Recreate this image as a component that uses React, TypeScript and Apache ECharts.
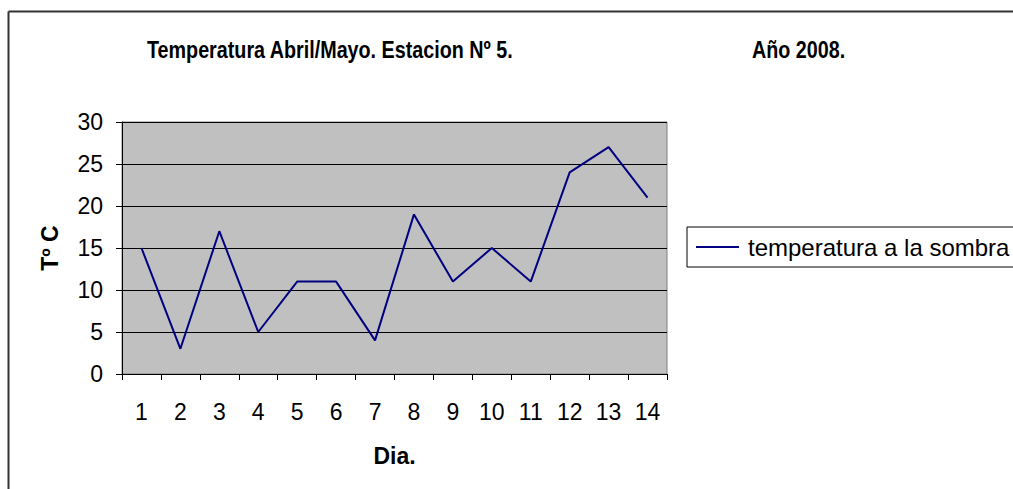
import React, { useEffect, useRef } from "react";
import * as echarts from "echarts";

const days = ["1", "2", "3", "4", "5", "6", "7", "8", "9", "10", "11", "12", "13", "14"];
const temperatures = [15, 3, 17, 5, 11, 11, 4, 19, 11, 15, 11, 24, 27, 21];
const seriesName = "temperatura a la sombra";
const titleMain = "Temperatura Abril/Mayo. Estacion Nº 5.";
const titleYear = "Año 2008.";
const yAxisName = "Tº C";
const xAxisName = "Dia.";

export default function App() {
  const ref = useRef<HTMLDivElement>(null);
  useEffect(() => {
    if (!ref.current) return;
    const chart = echarts.init(ref.current, null, { renderer: "svg" });
    const font = "Liberation Sans, Arial, sans-serif";
    chart.setOption({
      animation: false,
      backgroundColor: "#ffffff",
      textStyle: { fontFamily: font },
      grid: {
        left: 122,
        top: 122,
        right: 346,
        bottom: 115,
        show: true,
        backgroundColor: "#C0C0C0",
        borderColor: "#808080",
        borderWidth: 1,
      },
      graphic: [
        { type: "line", shape: { x1: 8.5, y1: 11.5, x2: 8.5, y2: 489 }, style: { stroke: "#333", lineWidth: 2 } },
        { type: "line", shape: { x1: 8.5, y1: 11.5, x2: 1013, y2: 11.5 }, style: { stroke: "#333", lineWidth: 2 } },
        {
          type: "text",
          x: 147,
          y: 38,
          scaleX: 0.84,
          style: { text: titleMain, font: `bold 23.5px ${font}`, fill: "#000", textVerticalAlign: "top", verticalAlign: "top" },
        },
        {
          type: "text",
          x: 752,
          y: 38,
          scaleX: 0.84,
          style: { text: titleYear, font: `bold 23.5px ${font}`, fill: "#000", textVerticalAlign: "top", verticalAlign: "top" },
        },
      ],
      legend: {
        left: 687,
        top: 227,
        orient: "vertical",
        data: [{ name: seriesName, icon: "rect" }],
        itemWidth: 43,
        itemHeight: 2,
        itemGap: 0,
        padding: [8, 30, 8, 9],
        borderColor: "#000",
        borderWidth: 1,
        backgroundColor: "#fff",
        borderRadius: 0,
        textStyle: { fontSize: 24, lineHeight: 24, color: "#000", fontFamily: font, padding: [0, 0, 0, 4] },
      },
      xAxis: {
        type: "category",
        data: days,
        boundaryGap: true,
        name: xAxisName,
        nameLocation: "middle",
        nameGap: 70,
        nameTextStyle: { fontSize: 23, fontWeight: "bold", color: "#000" },
        axisLine: { lineStyle: { color: "#000", width: 1 } },
        axisTick: { show: true, length: 6, lineStyle: { color: "#000" } },
        axisLabel: { fontSize: 23, color: "#000", margin: 26 },
        splitLine: { show: false },
      },
      yAxis: {
        type: "value",
        min: 0,
        max: 30,
        interval: 5,
        name: yAxisName,
        nameLocation: "middle",
        nameGap: 61,
        nameRotate: 90,
        nameTextStyle: { fontSize: 23, fontWeight: "bold", color: "#000" },
        axisLine: { show: true, lineStyle: { color: "#000", width: 1 } },
        axisTick: { show: true, length: 6, lineStyle: { color: "#000" } },
        axisLabel: { fontSize: 23, color: "#000", margin: 19 },
        splitLine: { show: true, lineStyle: { color: "#000", width: 1 } },
      },
      series: [
        {
          name: seriesName,
          type: "line",
          data: temperatures,
          symbol: "none",
          lineStyle: { color: "#000080", width: 2 },
          itemStyle: { color: "#000080" },
        },
      ],
    });
    return () => chart.dispose();
  }, []);
  return (
    <div
      ref={ref}
      style={{ position: "absolute", left: 0, top: 0, width: 1013, height: 489 }}
    />
  );
}
